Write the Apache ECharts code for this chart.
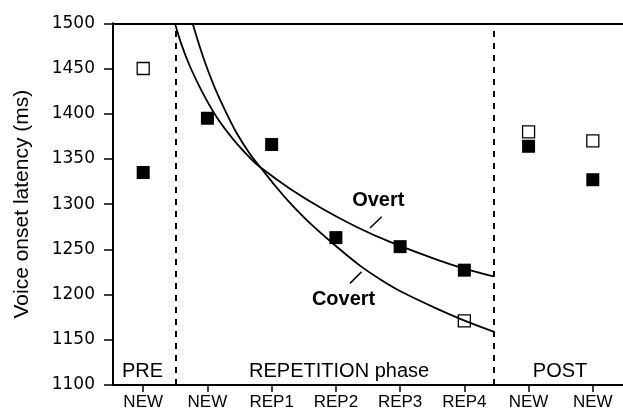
<!DOCTYPE html>
<html><head><meta charset="utf-8">
<script src="https://cdn.jsdelivr.net/npm/echarts@6/dist/echarts.min.js"></script>
<style>html,body{margin:0;padding:0;background:#fff}#c{width:623px;height:415px}</style>
</head><body><div id="c"></div>
<script>
// ---- data ----
const tickLabels = ['NEW', 'NEW', 'REP1', 'REP2', 'REP3', 'REP4', 'NEW', 'NEW'];
const positions = [0, 1, 2, 3, 4, 5, 6, 7];
const filledValues = [1335, 1395, 1366, 1263, 1253, 1227, 1364, 1327];
const openPositions = [0, 5, 6, 7];
const openValues = [1450, 1171, 1380, 1370];
const overtX = [0.494, 0.587, 0.727, 0.910, 1.143, 1.402, 1.662, 1.818, 2.285, 2.804, 3.324, 3.843, 4.570, 4.984, 5.452];
const overtY = [1500, 1478.4, 1452.5, 1425.3, 1396.3, 1371.6, 1351.2, 1341.0, 1317.1, 1294.4, 1274.8, 1258.2, 1238.6, 1228.9, 1220.0];
const covertX = [0.769, 0.872, 0.977, 1.117, 1.273, 1.455, 1.662, 1.818, 2.051, 2.285, 2.596, 2.986, 3.375, 3.687, 3.998, 4.570, 4.984, 5.452];
const covertY = [1500, 1476.0, 1453.9, 1428.4, 1404.1, 1378.7, 1355.5, 1341.4, 1320.6, 1301.4, 1279.0, 1254.5, 1232.0, 1217.0, 1204.0, 1184.5, 1171.8, 1159.1];
const dividers = [0.5, 5.45];
const phaseNames = ['PRE', 'REPETITION phase', 'POST'];
const phaseX = [-0.01, 3.05, 6.49];
const phaseY = 1115;
const curveNames = ['Overt', 'Covert'];
const curveLabelX = [3.66, 3.12];
const curveLabelY = [1304, 1195];
const leaderOvert = [[3.531, 1273.6], [3.713, 1286.1]];
const leaderCovert = [[3.22, 1212.4], [3.40, 1225.2]];
const yName = 'Voice onset latency (ms)';

// ---- chart ----
const chart = echarts.init(document.getElementById('c'), null, {renderer: 'canvas'});
const black = '#000';
const font = "'Liberation Sans', Arial, Helvetica, sans-serif";
const clear = 'rgba(0,0,0,0)';

const option = {
  animation: false,
  backgroundColor: '#fff',
  grid: {left: 113, right: 0, top: 23.3, bottom: 30, containLabel: false},
  xAxis: [{
    type: 'value', min: -0.47, max: 7.47, position: 'bottom',
    splitLine: {show: false},
    axisLine: {show: true, onZero: false, lineStyle: {color: black, width: 2}},
    axisTick: {show: true, customValues: positions, length: 7, lineStyle: {color: black, width: 1.5}},
    axisLabel: {show: true, customValues: positions, margin: 9,
      formatter: v => tickLabels[Math.round(v)],
      color: black, fontSize: 17, fontFamily: "'Liberation Sans Narrow', 'Arial Narrow', sans-serif"}
  }, {
    type: 'value', min: -0.47, max: 7.47, position: 'top',
    splitLine: {show: false},
    axisLine: {show: true, onZero: false, lineStyle: {color: black, width: 2}},
    axisTick: {show: false}, axisLabel: {show: false}
  }],
  yAxis: {
    type: 'value', min: 1100, max: 1500, interval: 50,
    splitLine: {show: false},
    axisLine: {show: true, onZero: false, lineStyle: {color: black, width: 2}},
    axisTick: {show: true, length: 9, lineStyle: {color: black, width: 1.5}},
    axisLabel: {margin: 18, color: black, fontSize: 17, fontFamily: "'DejaVu Sans', sans-serif",
      formatter: v => String(v)},
    name: yName, nameLocation: 'middle', nameGap: 80,
    nameTextStyle: {color: black, fontSize: 21, fontFamily: font}
  },
  series: [
    {
      type: 'line', data: [], silent: true,
      markLine: {
        silent: true, symbol: ['none', 'none'], label: {show: false},
        lineStyle: {color: black, type: [6, 6], width: 2},
        data: dividers.map(d => [{coord: [d, 1100]}, {coord: [d, 1500]}])
      }
    },
    {
      type: 'scatter', symbol: 'rect', symbolSize: 12, z: 3,
      itemStyle: {color: '#fff', borderColor: black, borderWidth: 1.3, opacity: 1},
      data: openPositions.map((p, i) => [p, openValues[i]])
    },
    {
      type: 'line', smooth: 0.3, symbol: 'none', z: 4,
      lineStyle: {color: black, width: 1.8},
      data: overtX.map((x, i) => [x, overtY[i]])
    },
    {
      type: 'line', smooth: 0.3, symbol: 'none', z: 4,
      lineStyle: {color: black, width: 1.8},
      data: covertX.map((x, i) => [x, covertY[i]])
    },
    {
      type: 'line', symbol: 'none', z: 4, lineStyle: {color: black, width: 1.5},
      data: leaderOvert
    },
    {
      type: 'line', symbol: 'none', z: 4, lineStyle: {color: black, width: 1.5},
      data: leaderCovert
    },
    {
      type: 'scatter', symbol: 'rect', symbolSize: 13, z: 5,
      itemStyle: {color: black, opacity: 1},
      data: positions.map((p, i) => [p, filledValues[i]])
    },
    {
      type: 'scatter', symbolSize: 1, z: 6, silent: true,
      itemStyle: {color: clear, opacity: 1},
      label: {show: true, position: 'inside', formatter: p => curveNames[p.dataIndex],
        color: black, opacity: 1, fontSize: 20, fontWeight: 'bold', fontFamily: font},
      data: curveNames.map((n, i) => [curveLabelX[i], curveLabelY[i]])
    },
    {
      type: 'scatter', symbolSize: 1, z: 6, silent: true,
      itemStyle: {color: clear, opacity: 1},
      label: {show: true, position: 'inside', formatter: p => phaseNames[p.dataIndex],
        color: black, opacity: 1, fontSize: 20, fontFamily: font},
      data: phaseNames.map((n, i) => [phaseX[i], phaseY])
    }
  ]
};
chart.setOption(option);
</script>
</body></html>
